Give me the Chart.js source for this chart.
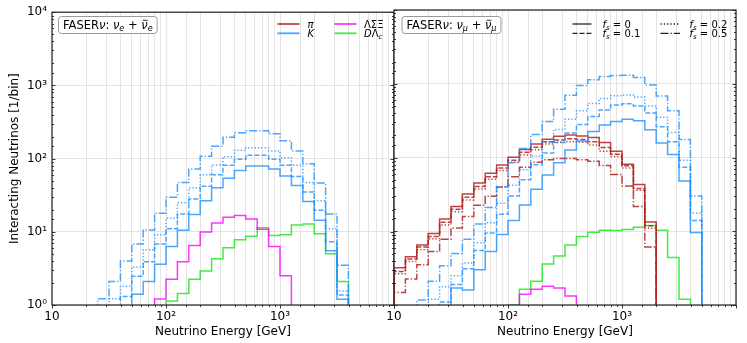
<!DOCTYPE html>
<html>
<head>
<meta charset="utf-8">
<script src="https://cdn.jsdelivr.net/npm/chart.js@4.4.0/dist/chart.umd.min.js"></script>
<style>
  html, body { margin: 0; padding: 0; background: #fff; }
  #wrap { position: relative; width: 747px; height: 343px; overflow: hidden; }
  #wrap canvas { position: absolute; top: 0; }
  #leftChart { left: 0; }
  #rightChart { left: 380px; }
</style>
</head>
<body>
<div id="wrap">
  <canvas id="leftChart" width="400" height="343"></canvas>
  <canvas id="rightChart" width="367" height="343"></canvas>
</div>
<script>
const _ = null;

// low edges of the energy bins [GeV], last entry closes the final bin
const binEdges = [10, 12.59, 15.85, 19.95, 25.12, 31.62, 39.81, 50.12, 63.10, 79.43,
  100, 125.9, 158.5, 199.5, 251.2, 316.2, 398.1, 501.2, 631.0, 794.3,
  1000, 1259, 1585, 1995, 2512, 3162, 3981, 5012];

const xTickLabels = { 10: '10', 100: '10²', 1000: '10³' };
const yTickLabels = { 1: '10⁰', 10: '10¹', 100: '10²', 1000: '10³', 10000: '10⁴' };
const fsLabels = ['0', '0.1', '0.2', '0.5'];

// nu_e + nubar_e (left panel), interactions per bin
const nueK_fs0  = [_, _, _, _, _, _, _, 1.4, 2.1, 3.6, 6.3, 10.5, 17.3, 26.5, 40, 54, 69, 79, 79, 72, 58, 43, 26, 14.4, 5.5, 1.2];
const nueK_fs01 = [_, _, _, _, _, _, 1.31, 2.47, 3.9, 6.8, 11, 17.5, 28, 42, 60, 81, 98, 111, 111, 98, 81, 57, 35, 19.7, 7.3, 1.37];
const nueK_fs02 = [_, _, _, _, _, 1.22, 1.81, 3.3, 5.7, 9.1, 15.3, 25, 40, 60, 82, 106, 130, 141, 141, 127, 103, 81, 47, 26.6, 11, 1.55];
const nueK_fs05 = [_, _, _, _, 1.22, 2.1, 4.0, 6.8, 10.6, 17.9, 29.7, 47, 72, 108, 148, 195, 225, 240, 240, 218, 175, 127, 85, 46.5, 17.5, 3.5];
const nueHyperon = [_, _, _, _, _, _, _, _, _, 1.21, 2.25, 3.9, 6.5, 9.9, 13.2, 15.8, 16.7, 15, 10.8, 6.3, 2.5];
const nueCharm   = [_, _, _, _, _, _, _, _, _, _, 1.13, 1.44, 2.25, 2.92, 4.3, 6.06, 7.8, 8.7, 11.4, 8.9, 9.1, 12.4, 12.8, 9.4, 5.0, 2.1];

// nu_mu + nubar_mu (right panel)
const numuPi_fs0  = [3.2, 4.5, 6.5, 9.3, 14.7, 21.6, 32, 45, 61, 79, 101, 128, 152, 177, 194, 202, 195, 186, 160, 122, 81, 43, 13.4];
const numuPi_fs01 = [2.85, 4.2, 6.1, 8.5, 13.2, 19.9, 29, 40.5, 55, 72, 92, 118, 138, 163, 173, 179, 175, 164, 137, 111, 77, 38, 11.9];
const numuPi_fs02 = [2.65, 3.9, 5.6, 7.9, 12.2, 18.4, 26.6, 37.5, 50.7, 66.5, 86, 108, 127, 153, 161, 164, 161, 148, 122, 103, 72, 36, 11];
const numuPi_fs05 = [1.48, 2.25, 3.5, 5.3, 7.8, 11.1, 15.8, 22.6, 29.8, 39.7, 55, 74, 86, 93, 97, 97, 93, 89, 78, 59, 41, 21.6, 6.1];
const numuK_fs0  = [_, _, _, _, _, 1.7, 1.6, 3.0, 5.3, 9, 14, 22.7, 37, 58, 85, 126, 167, 226, 276, 307, 330, 315, 237, 157, 110, 48, 9.6];
const numuK_fs01 = [_, _, _, _, 1.1, 1.9, 3.1, 5.5, 9.5, 17, 30, 50, 80, 115, 160, 215, 280, 360, 440, 515, 535, 500, 400, 262, 164, 74, 14];
const numuK_fs02 = [_, _, _, 1.2, 1.77, 2.5, 3.7, 7, 13, 24, 42, 68, 105, 160, 240, 330, 430, 540, 630, 690, 705, 660, 500, 350, 218, 92, 17.6];
const numuK_fs05 = [_, _, 1.17, 2.1, 3.4, 5.0, 7.8, 12.5, 21, 40, 85, 132, 205, 307, 450, 700, 950, 1130, 1250, 1290, 1300, 1220, 960, 680, 430, 175, 30];
const numuHyperon = [_, _, _, _, _, _, _, _, _, _, _, 1.4, 1.63, 1.8, 1.7, 1.32];
const numuCharm   = [_, _, _, _, _, _, _, _, _, _, 1.0, 1.63, 2.1, 3.6, 4.6, 6.5, 8.5, 9.7, 10.3, 10.2, 10.6, 11.3, 12.0, 10.3, 4.4, 1.2];

const FONT = '"DejaVu Sans", sans-serif';
const BELOW_AXIS = 0.1;   // histogram edges drop below the y range
const colPi = 'rgba(178, 34, 34, 0.85)';
const colK = 'rgba(30, 144, 255, 0.8)';
const colHyperon = 'rgba(255, 0, 255, 0.8)';
const colCharm = 'rgba(20, 230, 20, 0.8)';
const fsDash = [[], [5, 2], [1.3, 2], [8, 2, 1.3, 2]];
const gridCol = '#e4e4e4';

Chart.defaults.font.family = FONT;
Chart.defaults.color = '#000';

function isDecade(v) {
  const l = Math.log10(v);
  return Math.abs(l - Math.round(l)) < 1e-6;
}

// turn per-bin values into points for a stepped outline
function stepPoints(vals) {
  const first = vals.findIndex(v => v !== null);
  let last = vals.length - 1;
  while (vals[last] === null) last--;
  const pts = [{ x: binEdges[first], y: BELOW_AXIS }];
  for (let i = first; i <= last; i++) {
    pts.push({ x: binEdges[i], y: vals[i] === null ? BELOW_AXIS : vals[i] });
  }
  pts.push({ x: binEdges[last + 1], y: BELOW_AXIS });
  return pts;
}

function hist(vals, color, dash) {
  return {
    data: stepPoints(vals),
    borderColor: color,
    borderWidth: 1.5,
    borderDash: dash,
    stepped: true,
    pointRadius: 0,
    fill: false,
    tension: 0
  };
}

// draws text pieces: n normal, i italic, s subscript, b bar on top
function richText(ctx, x, y, parts, size, measureOnly) {
  let cx = x;
  parts.forEach(([txt, st]) => {
    const sub = st.includes('s');
    const fs = sub ? size * 0.7 : size;
    ctx.font = (st.includes('i') ? 'italic ' : '') + fs + 'px ' + FONT;
    const w = ctx.measureText(txt).width;
    if (!measureOnly) {
      ctx.fillText(txt, cx, y + (sub ? size * 0.22 : 0));
      if (st.includes('b')) {
        ctx.fillRect(cx + w * 0.25, y - size * 0.78, w * 0.75, size * 0.07);
      }
    }
    cx += w;
  });
  return cx - x;
}

function textBox(ctx, x, top, parts) {
  const size = 11.5;
  ctx.save();
  ctx.textBaseline = 'alphabetic';
  const w = richText(ctx, x, 0, parts, size, true);
  const bx = x - 4.5, bw = w + 9, bh = 17, r = 3;
  ctx.beginPath();
  ctx.moveTo(bx + r, top);
  ctx.arcTo(bx + bw, top, bx + bw, top + bh, r);
  ctx.arcTo(bx + bw, top + bh, bx, top + bh, r);
  ctx.arcTo(bx, top + bh, bx, top, r);
  ctx.arcTo(bx, top, bx + bw, top, r);
  ctx.closePath();
  ctx.fillStyle = 'rgba(255,255,255,0.85)';
  ctx.fill();
  ctx.strokeStyle = '#9a9a9a';
  ctx.lineWidth = 1;
  ctx.stroke();
  ctx.fillStyle = '#000';
  richText(ctx, x, top + 12.3, parts, size, false);
  ctx.restore();
}

function legendEntry(ctx, x0, x1, y, color, dash, width, tx, parts) {
  ctx.save();
  ctx.strokeStyle = color;
  ctx.lineWidth = width;
  ctx.setLineDash(dash);
  ctx.beginPath();
  ctx.moveTo(x0, y);
  ctx.lineTo(x1, y);
  ctx.stroke();
  ctx.setLineDash([]);
  ctx.fillStyle = '#000';
  ctx.textBaseline = 'alphabetic';
  richText(ctx, tx, y + 3.6, parts, 10, false);
  ctx.restore();
}

function makeDecor(drawExtras) {
  return {
    id: 'decor',
    afterDraw(chart) {
      const { ctx, chartArea: a } = chart;
      const x = chart.scales.x, y = chart.scales.y;
      ctx.save();
      ctx.strokeStyle = '#222';
      ctx.lineWidth = 0.9;
      ctx.beginPath();
      y.ticks.forEach(t => {
        const py = Math.round(y.getPixelForValue(t.value)) + 0.5;
        const len = isDecade(t.value) ? 3.5 : 2;
        ctx.moveTo(a.left, py); ctx.lineTo(a.left + len, py);
        ctx.moveTo(a.right, py); ctx.lineTo(a.right - len, py);
      });
      x.ticks.forEach(t => {
        const px = Math.round(x.getPixelForValue(t.value)) + 0.5;
        const len = isDecade(t.value) ? 3.5 : 2;
        ctx.moveTo(px, a.bottom); ctx.lineTo(px, a.bottom + len);
      });
      ctx.stroke();
      ctx.lineWidth = 1.2;
      ctx.strokeRect(a.left, a.top, a.right - a.left, a.bottom - a.top);
      drawExtras(ctx);
      ctx.restore();
    }
  };
}

function xScale() {
  return {
    type: 'logarithmic', min: 10, max: 10000,
    afterFit: s => { s.height = 38; },
    border: { display: false },
    grid: { color: gridCol, lineWidth: 1, drawTicks: false },
    ticks: {
      autoSkip: false, maxRotation: 0, padding: 5,
      font: { size: 12 },
      callback: v => xTickLabels[v] || ''
    },
    title: {
      display: true, text: 'Neutrino Energy [GeV]',
      font: { size: 12 }, padding: { top: 0, bottom: 4 }
    }
  };
}

function yScale(showLabels, width) {
  return {
    type: 'logarithmic', min: 1, max: 10000,
    afterFit: s => { s.width = width; },
    border: { display: false },
    grid: {
      drawTicks: false, lineWidth: 1,
      color: c => isDecade(c.tick.value) ? gridCol : 'rgba(0,0,0,0)'
    },
    ticks: {
      display: showLabels, autoSkip: false, padding: 5,
      font: { size: 12 },
      callback: v => yTickLabels[v] || ''
    },
    title: {
      display: showLabels, text: 'Interacting Neutrinos [1/bin]',
      font: { size: 12 }, padding: { top: 8 }
    }
  };
}

function baseOptions(showY, yWidth, padRight) {
  return {
    responsive: false,
    animation: false,
    devicePixelRatio: 1,
    layout: { padding: { left: 0, right: padRight, top: 10, bottom: 0 } },
    plugins: { legend: { display: false }, tooltip: { enabled: false } },
    scales: { x: xScale(), y: yScale(showY, yWidth) }
  };
}

const nueK = [nueK_fs0, nueK_fs01, nueK_fs02, nueK_fs05];
const leftSets = [];
nueK.forEach((vals, i) => leftSets.push(hist(vals, colK, fsDash[i])));
leftSets.push(hist(nueHyperon, colHyperon, []));
leftSets.push(hist(nueCharm, colCharm, []));

new Chart(document.getElementById('leftChart'), {
  type: 'line',
  data: { datasets: leftSets },
  options: baseOptions(true, 52, 6),
  plugins: [makeDecor(ctx => {
    textBox(ctx, 63, 16.5, [['FASER', 'n'], ['ν', 'i'], [': ', 'n'], ['ν', 'i'], ['e', 'is'],
      [' + ', 'n'], ['ν', 'ib'], ['e', 'is']]);
    legendEntry(ctx, 277.5, 299.5, 24, colPi, [], 1.8, 307.5, [['π', 'i']]);
    legendEntry(ctx, 277.5, 299.5, 33.3, colK, [], 1.8, 307.5, [['K', 'i']]);
    legendEntry(ctx, 334.5, 356.5, 24, colHyperon, [], 1.8, 364, [['ΛΣΞ', 'n']]);
    legendEntry(ctx, 334.5, 356.5, 33.3, colCharm, [], 1.8, 364, [['D', 'i'], ['Λ', 'n'], ['c', 'is']]);
  })]
});

const numuPi = [numuPi_fs0, numuPi_fs01, numuPi_fs02, numuPi_fs05];
const numuK = [numuK_fs0, numuK_fs01, numuK_fs02, numuK_fs05];
const rightSets = [];
numuK.forEach((vals, i) => rightSets.push(hist(vals, colK, fsDash[i])));
numuPi.forEach((vals, i) => rightSets.push(hist(vals, colPi, fsDash[i])));
rightSets.push(hist(numuHyperon, colHyperon, []));
rightSets.push(hist(numuCharm, colCharm, []));

new Chart(document.getElementById('rightChart'), {
  type: 'line',
  data: { datasets: rightSets },
  options: baseOptions(false, 14, 11),
  plugins: [makeDecor(ctx => {
    textBox(ctx, 26.5, 16.5, [['FASER', 'n'], ['ν', 'i'], [': ', 'n'], ['ν', 'i'], ['μ', 'is'],
      [' + ', 'n'], ['ν', 'ib'], ['μ', 'is']]);
    const fsParts = v => [['f', 'i'], ['s', 'is'], [' = ' + v, 'n']];
    legendEntry(ctx, 192.5, 211.5, 24, '#222', fsDash[0], 1.3, 222.5, fsParts(fsLabels[0]));
    legendEntry(ctx, 192.5, 211.5, 33.3, '#222', fsDash[1], 1.3, 222.5, fsParts(fsLabels[1]));
    legendEntry(ctx, 280.5, 300, 24, '#222', fsDash[2], 1.3, 309.5, fsParts(fsLabels[2]));
    legendEntry(ctx, 280.5, 300, 33.3, '#222', fsDash[3], 1.3, 309.5, fsParts(fsLabels[3]));
  })]
});
</script>
</body>
</html>
